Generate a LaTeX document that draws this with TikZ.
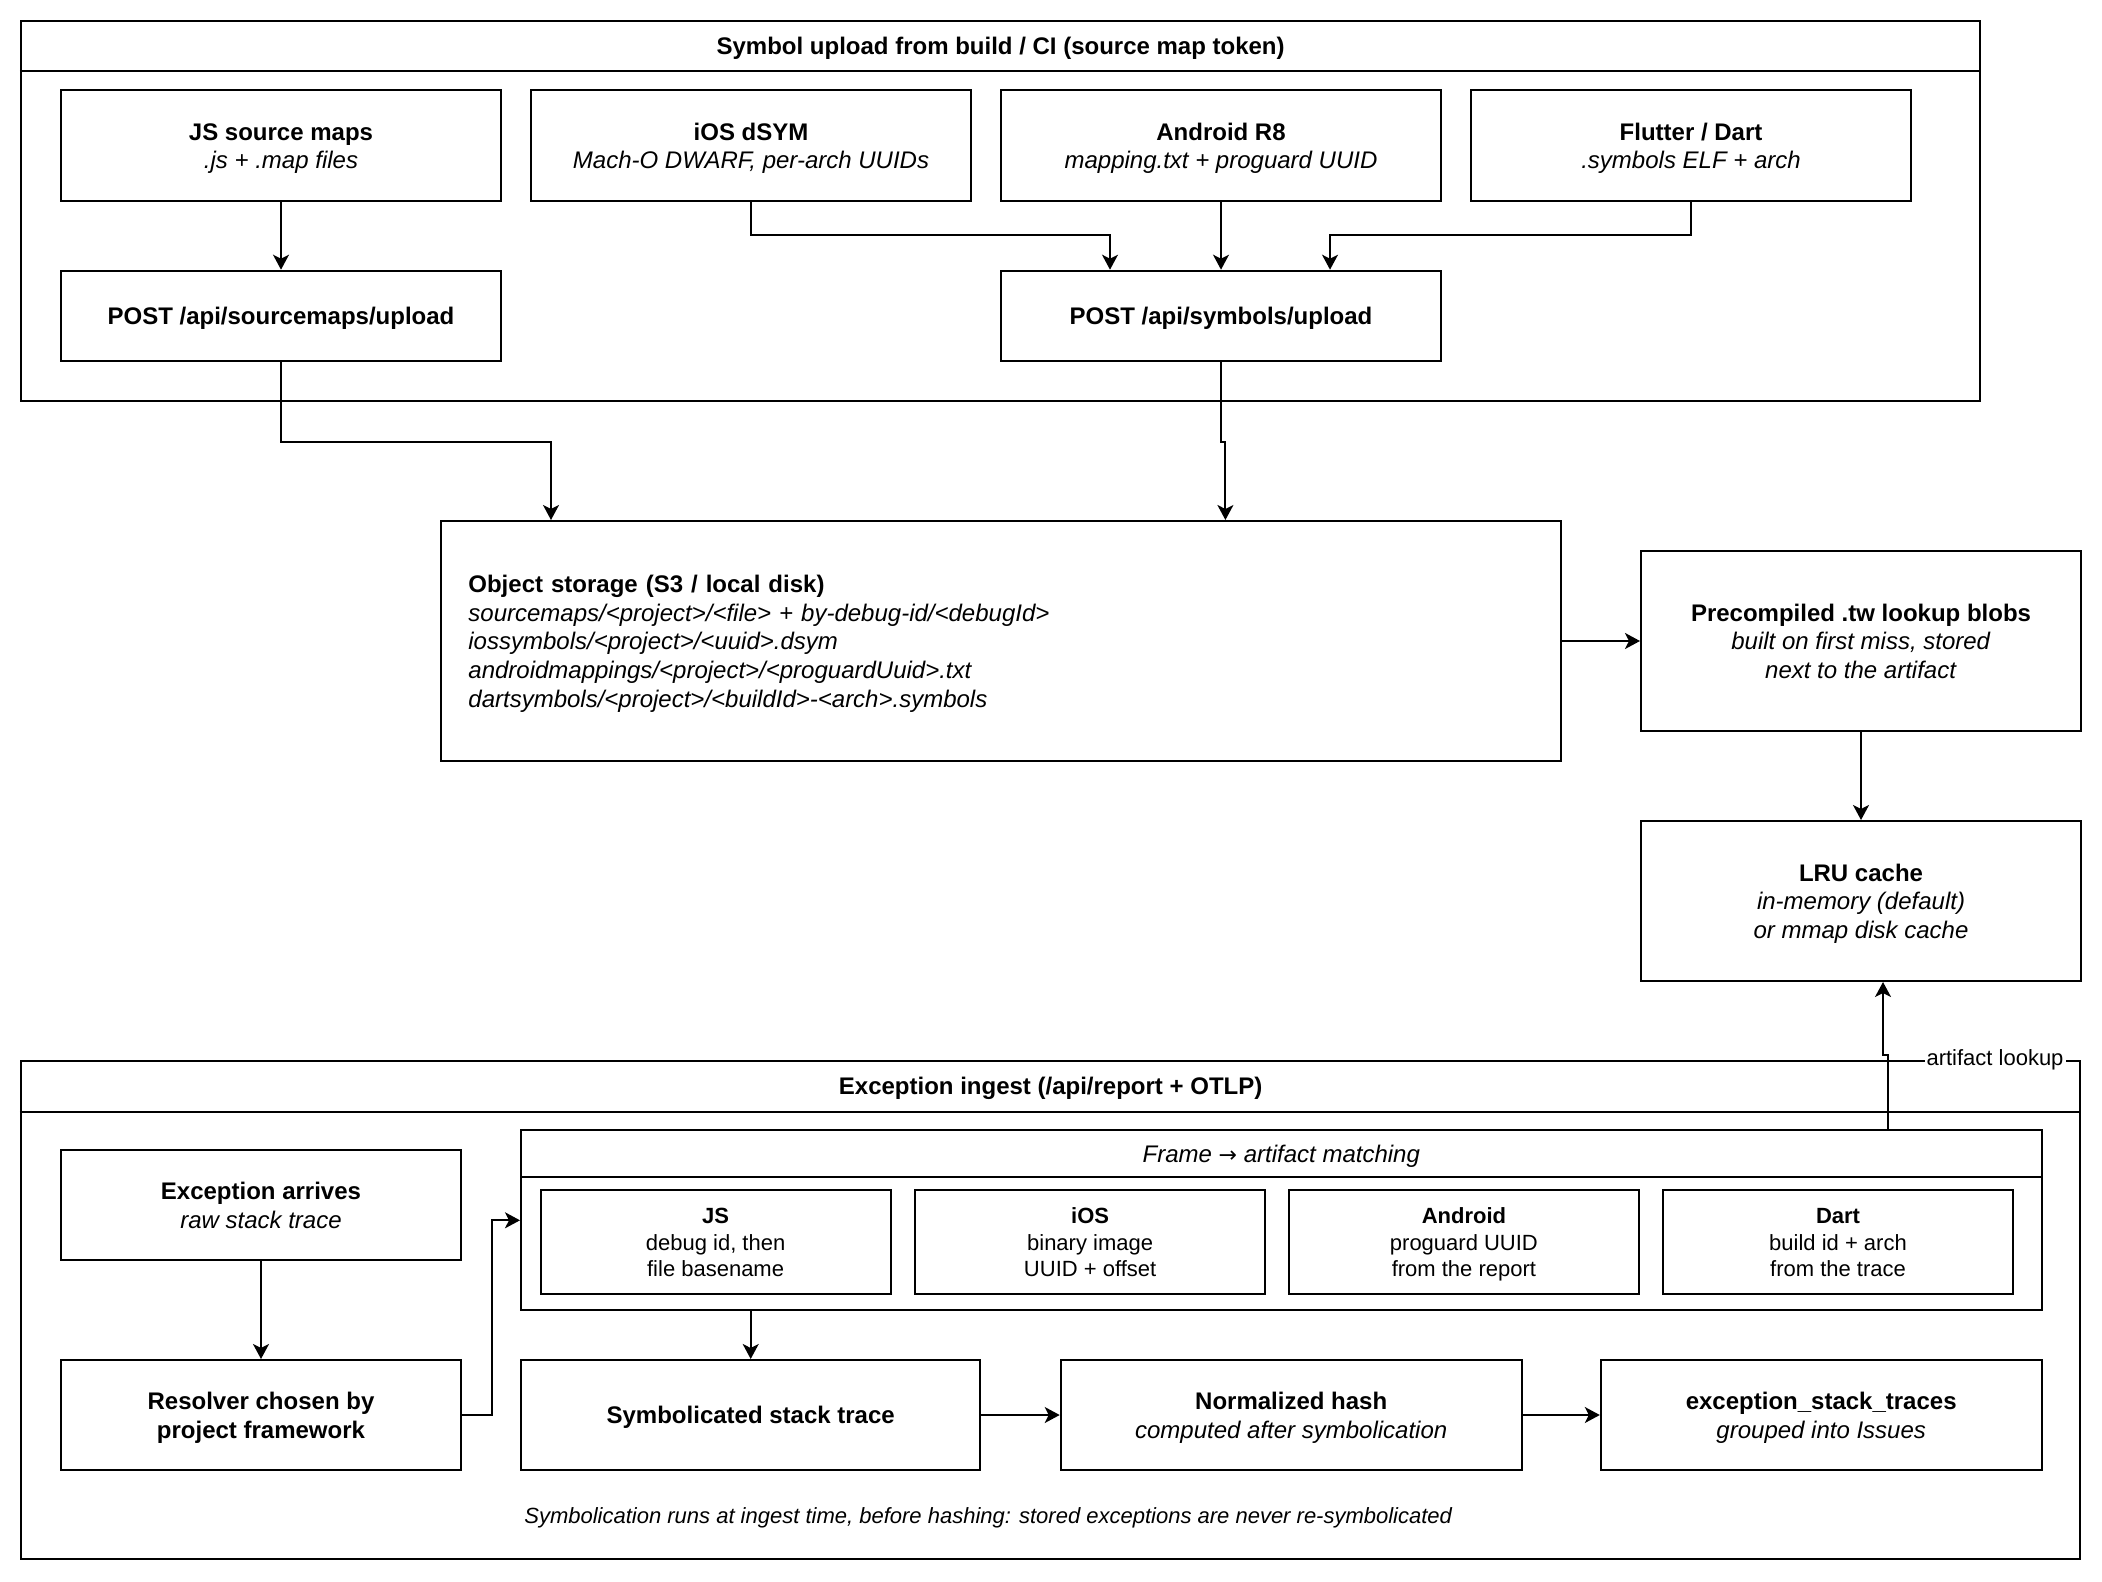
\documentclass[tikz,border=0pt]{standalone}
\usepackage{fontspec}
\setmainfont{Liberation Sans}
\newfontfamily\djv{DejaVu Sans}
\usetikzlibrary{arrows.meta}
\newcommand{\Tst}{\rule{0pt}{11.9pt}}
\newcommand{\Bst}{\rule[-3.04pt]{0pt}{0pt}}
\newcommand{\Tss}{\rule{0pt}{10.7pt}}
\newcommand{\Bss}{\rule[-2.79pt]{0pt}{0pt}}
\begin{document}
\begin{tikzpicture}[x=0.5pt,y=-0.5pt,
  big/.style={font=\fontsize{12}{14.4}\selectfont},
  small/.style={font=\fontsize{11}{13.2}\selectfont},
  bigs/.style={big,
    execute at begin node={\Tst},
    execute at end node={\Bst}},
  smalls/.style={small,
    execute at begin node={\Tss},
    execute at end node={\Bss}},
  box/.style={draw, line width=1pt, fill=white, align=center, inner sep=0pt, big},
  sbox/.style={draw, line width=1pt, fill=white, align=center, inner sep=0pt, small, minimum width=175pt, minimum height=52pt},
  cont/.style={draw, line width=1pt, fill=white, inner sep=0pt},
  ttl/.style={bigs, inner sep=0pt},
  arr/.style={line width=1pt, -{Stealth[length=7.5pt,width=8pt,inset=2pt]}},
  lbl/.style={smalls, fill=white, inner sep=1pt},
  note/.style={smalls, inner sep=0pt}
]
\path[fill=white] (0,0) rectangle (2102,1582);
\useasboundingbox (0,0) rectangle (2102,1582);

% ---------- upper container ----------
\node[cont, minimum width=979.8pt, minimum height=190pt] (up) at (1000.6,210.7) {};
\draw[line width=1pt] ([yshift=-25.8pt]up.north west) -- ([yshift=-25.8pt]up.north east);
\node[ttl] (uptitle) at ([yshift=-12.9pt]up.north) {\textbf{Symbol upload from build / CI (source map token)}};

\node[box, minimum width=220pt, minimum height=55.3pt] (jsmap) at (281,145.7) {\Tst\textbf{JS source maps}\\\textit{.js + .map files}\Bst};
\node[box, minimum width=220pt, minimum height=55.3pt] (iosd) at (751,145.7) {\Tst\textbf{iOS dSYM}\\\textit{Mach-O DWARF, per-arch UUIDs}\Bst};
\node[box, minimum width=220pt, minimum height=55.3pt] (andr) at (1221,145.7) {\Tst\textbf{Android R8}\\\textit{mapping.txt + proguard UUID}\Bst};
\node[box, minimum width=220pt, minimum height=55.3pt] (flut) at (1691,145.7) {\Tst\textbf{Flutter / Dart}\\\textit{.symbols ELF + arch}\Bst};

\node[box, minimum width=220pt, minimum height=45pt] (postsm) at (281,315.7) {\Tst\textbf{POST /api/sourcemaps/upload}\Bst};
\node[box, minimum width=220pt, minimum height=45pt] (postsym) at (1221,315.7) {\Tst\textbf{POST /api/symbols/upload}\Bst};

% ---------- middle ----------
\node[box, minimum width=560pt, minimum height=120pt, align=left, text width=533pt, inner xsep=13.5pt] (obj) at (1001.4,641)
 {\Tst\textbf{Object storage (S3 / local disk)}\\
  \textit{sourcemaps/<project>/<file> + by-debug-id/<debugId>}\\
  \textit{iossymbols/<project>/<uuid>.dsym}\\
  \textit{androidmappings/<project>/<proguardUuid>.txt}\\
  \textit{dartsymbols/<project>/<buildId>-<arch>.symbols}\Bst};
\node[box, minimum width=220pt, minimum height=90pt] (pre) at (1861,641) {\Tst\textbf{Precompiled .tw lookup blobs}\\\textit{built on first miss, stored}\\\textit{next to the artifact}\Bst};
\node[box, minimum width=220pt, minimum height=80pt] (lru) at (1861,901) {\Tst\textbf{LRU cache}\\\textit{in-memory (default)}\\\textit{or mmap disk cache}\Bst};

% ---------- ingest container ----------
\node[cont, minimum width=1029.85pt, minimum height=249.15pt] (ing) at (1050.6,1309.85) {};
\draw[line width=1pt] ([yshift=-25.9pt]ing.north west) -- ([yshift=-25.9pt]ing.north east);
\node[ttl] (ingtitle) at ([yshift=-12.95pt]ing.north) {\textbf{Exception ingest (/api/report + OTLP)}};

\node[box, minimum width=200pt, minimum height=55pt] (exa) at (261,1205) {\Tst\textbf{Exception arrives}\\\textit{raw stack trace}\Bst};
\node[box, minimum width=200pt, minimum height=55pt] (res) at (261,1415) {\Tst\textbf{Resolver chosen by}\\\textbf{project framework}\Bst};

\node[cont, minimum width=760.3pt, minimum height=90pt] (frm) at (1281.3,1220.3) {};
\draw[line width=1pt] ([yshift=-24pt]frm.north west) -- ([yshift=-24pt]frm.north east);
\node[ttl] (frmtitle) at ([yshift=-12pt]frm.north) {\textit{Frame {\djv\upshape\fontsize{11}{13}\selectfont →} artifact matching}};

\node[sbox] (jsm) at (715.6,1242.4) {\Tss\textbf{JS}\\debug id, then\\file basename\Bss};
\node[sbox] (iosm) at (1090.1,1242.4) {\Tss\textbf{iOS}\\binary image\\UUID + offset\Bss};
\node[sbox] (andm) at (1463.9,1242.4) {\Tss\textbf{Android}\\proguard UUID\\from the report\Bss};
\node[sbox] (dartm) at (1838,1242.4) {\Tss\textbf{Dart}\\build id + arch\\from the trace\Bss};

\node[box, minimum width=229.75pt, minimum height=55pt] (sym) at (750.7,1415) {\Tst\textbf{Symbolicated stack trace}\Bst};
\node[box, minimum width=230.5pt, minimum height=55pt] (nh) at (1291.2,1415) {\Tst\textbf{Normalized hash}\\\textit{computed after symbolication}\Bst};
\node[box, minimum width=220.4pt, minimum height=55pt] (est) at (1821.2,1415) {\Tst\textbf{exception\_stack\_traces}\\\textit{grouped into Issues}\Bst};

\node[note] (foot) at (988.5,1516) {\textit{Symbolication runs at ingest time, before hashing: stored exceptions are never re-symbolicated}};

% ---------- connectors ----------
\draw[arr] (jsmap.south) -- (postsm.north);
\draw[arr] (iosd.south) |- ([xshift=55pt,yshift=17.5pt]postsym.north west) -- ([xshift=55pt]postsym.north west);
\draw[arr] (andr.south) -- (postsym.north);
\draw[arr] (flut.south) |- ([xshift=165pt,yshift=17.5pt]postsym.north west) -- ([xshift=165pt]postsym.north west);

\draw[arr] (postsm.south) -- ++(0,-40pt) -| ([xshift=55.3pt]obj.north west);
\draw[arr] (postsym.south) -- ++(0,-40pt) -| ([xshift=392.5pt]obj.north west);
\draw[arr] (obj.east) -- (pre.west);
\draw[arr] (pre.south) -- (lru.north);

\draw[arr] (exa.south) -- (res.north);
\draw[arr] (res.east) -- ++(15pt,0) |- (frm.west);
\draw[arr] (frm.south -| sym.north) -- (sym.north);
\draw[arr] (sym.east) -- (nh.west);
\draw[arr] (nh.east) -- (est.west);
\draw[arr] ([xshift=683.8pt]frm.north west) -- ++(0,37.2pt) -| ([xshift=11pt]lru.south);
\node[lbl] (artlbl) at (1995,1058) {artifact lookup};
\end{tikzpicture}
\end{document}
